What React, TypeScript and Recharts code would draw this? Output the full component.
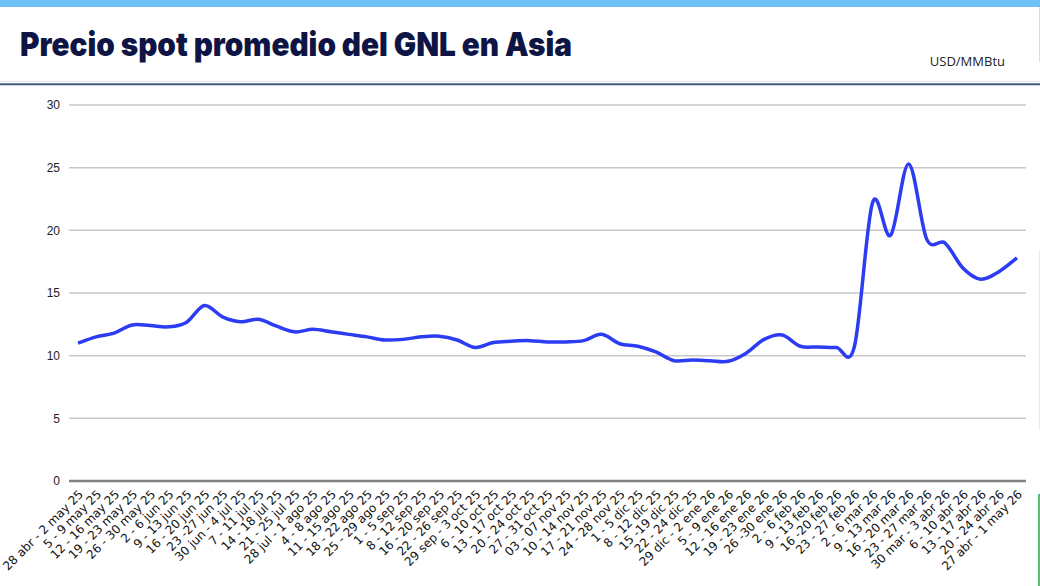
import React from 'react';
import { LineChart, Line, XAxis, YAxis, CartesianGrid } from 'recharts';

const weeks = [
  '28 abr - 2 may 25', '5 - 9 may 25', '12 - 16 may 25', '19 - 23 may 25', '26 - 30 may 25',
  '2 - 6 jun 25', '9 - 13 jun 25', '16 - 20 jun 25', '23 -27 jun 25', '30 jun - 4 jul 25',
  '7 - 11 jul 25', '14 - 18 jul 25', '21 - 25 jul 25', '28 jul - 1 ago 25', '4 - 8 ago 25',
  '11 - 15 ago 25', '18 - 22 ago 25', '25 - 29 ago 25', '1 - 5 sep 25', '8 - 12 sep 25',
  '16 - 20 sep 25', '22 - 26 sep 25', '29 sep - 3 oct 25', '6 - 10 oct 25', '13 - 17 oct 25',
  '20 - 24 oct 25', '27 - 31 oct 25', '03 - 07 nov 25', '10 - 14 nov 25', '17 - 21 nov 25',
  '24 - 28 nov 25', '1 - 5 dic 25', '8 - 12 dic 25', '15 -19 dic 25', '22 - 24 dic 25',
  '29 dic - 2 ene 26', '5 - 9 ene 26', '12 - 16 ene 26', '19 - 23 ene 26', '26 -30 ene 26',
  '2 - 6 feb 26', '9 - 13 feb 26', '16 -20 feb 26', '23 - 27 feb 26', '2 - 6 mar 26',
  '9 - 13 mar 26', '16 - 20 mar 26', '23 - 27 mar 26', '30 mar - 3 abr 26', '6 - 10 abr 26',
  '13 - 17 abr 26', '20 - 24 abr 26', '27 abr - 1 may 26',
];

// USD/MMBtu, one value per week
const prices = [
  11.0, 11.5, 11.8, 12.45, 12.4, 12.3, 12.65, 14.0, 13.1, 12.7,
  12.9, 12.35, 11.9, 12.1, 11.9, 11.7, 11.5, 11.25, 11.3, 11.5,
  11.55, 11.25, 10.65, 11.05, 11.15, 11.2, 11.1, 11.1, 11.2, 11.7,
  10.95, 10.75, 10.3, 9.6, 9.65, 9.6, 9.55, 10.2, 11.3, 11.65,
  10.75, 10.7, 10.65, 10.75, 22.2, 19.6, 25.3, 19.3, 19.0, 17.0,
  16.1, 16.7, 17.8,
];

const yTicks = [0, 5, 10, 15, 20, 25, 30];

const data = weeks.map((week, i) => ({ week, price: prices[i] }));

// Catmull-Rom style smoothing, close to the spreadsheet "smoothed line"
const smoothCurve = (context: any) => {
  let pts: [number, number][] = [];
  return {
    areaStart() {},
    areaEnd() {},
    lineStart() {
      pts = [];
    },
    lineEnd() {
      if (!pts.length) return;
      context.moveTo(pts[0][0], pts[0][1]);
      for (let i = 0; i < pts.length - 1; i++) {
        const p0 = pts[Math.max(0, i - 1)];
        const p1 = pts[i];
        const p2 = pts[i + 1];
        const p3 = pts[Math.min(pts.length - 1, i + 2)];
        context.bezierCurveTo(
          p1[0] + (p2[0] - p0[0]) / 6,
          p1[1] + (p2[1] - p0[1]) / 6,
          p2[0] - (p3[0] - p1[0]) / 6,
          p2[1] - (p3[1] - p1[1]) / 6,
          p2[0],
          p2[1]
        );
      }
    },
    point(x: number, y: number) {
      pts.push([x, y]);
    },
  };
};

export default function App() {
  return (
    <div style={{ position: 'absolute', left: 0, top: 0, width: 1040, height: 586, background: '#fff', overflow: 'hidden' }}>
      <div style={{ position: 'absolute', left: 0, top: 0, width: 1040, height: 7, background: '#6ec1f6' }} />
      <div style={{ position: 'absolute', left: 1039, top: 7, width: 1, height: 55, background: '#dcdcdc' }} />
      <div style={{ position: 'absolute', left: 1039, top: 250, width: 1, height: 180, background: '#e2e9f2' }} />
      <div style={{ position: 'absolute', left: 1038, top: 494, width: 2, height: 92, background: '#5bbd72' }} />
      <svg width={1040} height={90} style={{ position: 'absolute', left: 0, top: 0 }}>
        <text
          x={20}
          y={56}
          textLength={552}
          lengthAdjust="spacingAndGlyphs"
          fontFamily="Inter, 'Noto Sans', sans-serif"
          fontWeight={900}
          fontSize={33}
          fill="#0e1544"
        >
          Precio spot promedio del GNL en Asia
        </text>
        <text x={1005} y={66} textAnchor="end" fontFamily="'Open Sans', sans-serif" fontSize={13} fill="#222">
          USD/MMBtu
        </text>
        <line x1={0} x2={1040} y1={81.5} y2={81.5} stroke="#dfe3ea" strokeWidth={1} />
        <line x1={0} x2={1040} y1={84.3} y2={84.3} stroke="#3d5a80" strokeWidth={2} />
      </svg>
      <div style={{ position: 'absolute', left: 0, top: 0 }}>
        <LineChart width={1040} height={586} data={data} margin={{ top: 105, right: 14, bottom: 0, left: 0 }}>
          <CartesianGrid vertical={false} stroke="#c8c8c8" strokeWidth={1.5} />
          <XAxis
            dataKey="week"
            interval={0}
            height={105}
            padding={{ left: 9, right: 9 }}
            tickLine={false}
            axisLine={{ stroke: '#7f7f7f', strokeWidth: 2.5 }}
            tickMargin={2}
            angle={-45}
            textAnchor="end"
            tick={{ fontSize: 12, fill: '#111', fontFamily: "'DejaVu Sans', sans-serif" }}
          />
          <YAxis
            domain={[0, 30]}
            ticks={yTicks}
            width={69}
            tickLine={false}
            axisLine={false}
            tickMargin={3}
            tick={{ fontSize: 12, fill: '#222', fontFamily: "'Liberation Sans', Arial, sans-serif" }}
          />
          <Line
            dataKey="price"
            type={smoothCurve as any}
            stroke="#2b3cf2"
            strokeWidth={3.5}
            dot={false}
            activeDot={false}
            isAnimationActive={false}
          />
        </LineChart>
      </div>
    </div>
  );
}
